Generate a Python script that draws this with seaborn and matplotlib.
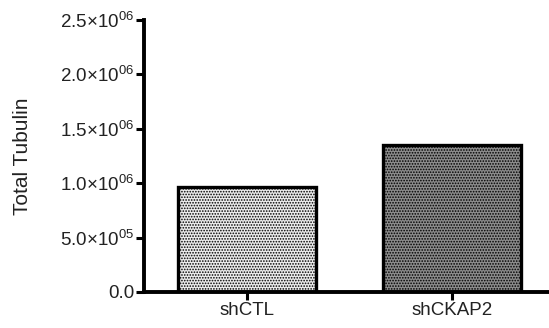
import matplotlib
matplotlib.use("Agg")
import matplotlib.pyplot as plt
import seaborn as sns
import pandas as pd

categories = ["shCTL", "shCKAP2"]
values = [965000, 1350000]
ytick_vals = [0, 500000, 1000000, 1500000, 2000000, 2500000]
ytick_labels = ["0.0", r"5.0×10$^{05}$", r"1.0×10$^{06}$", r"1.5×10$^{06}$",
                r"2.0×10$^{06}$", r"2.5×10$^{06}$"]

sns.set_style("white")
plt.rcParams["font.family"] = ["Liberation Sans", "DejaVu Sans"]
plt.rcParams["mathtext.fontset"] = "custom"
plt.rcParams["mathtext.rm"] = "Liberation Sans"
plt.rcParams["mathtext.it"] = "Liberation Sans"
plt.rcParams["mathtext.bf"] = "Liberation Sans"
plt.rcParams["hatch.linewidth"] = 0.8

df = pd.DataFrame({"group": categories, "value": values})

fig = plt.figure(figsize=(5.49, 3.28), dpi=100)
ax = fig.add_axes([0.262, 0.110, 0.738, 0.829])
sns.barplot(data=df, x="group", y="value", ax=ax, width=0.67,
            color="white", saturation=1)

fills = ["#ececec", "#8c8c8c"]
hatches = ["......", "......"]
for p, fc, h in zip(ax.patches, fills, hatches):
    p.set_facecolor(fc)
    p.set_edgecolor("black")
    p.set_linewidth(2.4)
    p.set_hatch(h)

ax.set_ylim(0, 2500000)
ax.set_xlim(-0.5, 1.47)
ax.set_yticks(ytick_vals)
ax.set_yticklabels(ytick_labels, fontsize=13.5, color="#222222")
ax.set_xticks([0, 1])
ax.set_xticklabels(categories, fontsize=13.5, color="#222222")
ax.set_xlabel("")
ax.set_ylabel("Total Tubulin", fontsize=15, color="#222222")
ax.yaxis.set_label_coords(-0.275, 0.5)

for s in ["top", "right"]:
    ax.spines[s].set_visible(False)
for s in ["left", "bottom"]:
    ax.spines[s].set_linewidth(2.8)
    ax.spines[s].set_color("black")
ax.tick_params(axis="both", which="major", length=6, width=2.2, color="black",
               direction="out", left=True, bottom=True, pad=1)

fig.savefig("out.png", dpi=100)
